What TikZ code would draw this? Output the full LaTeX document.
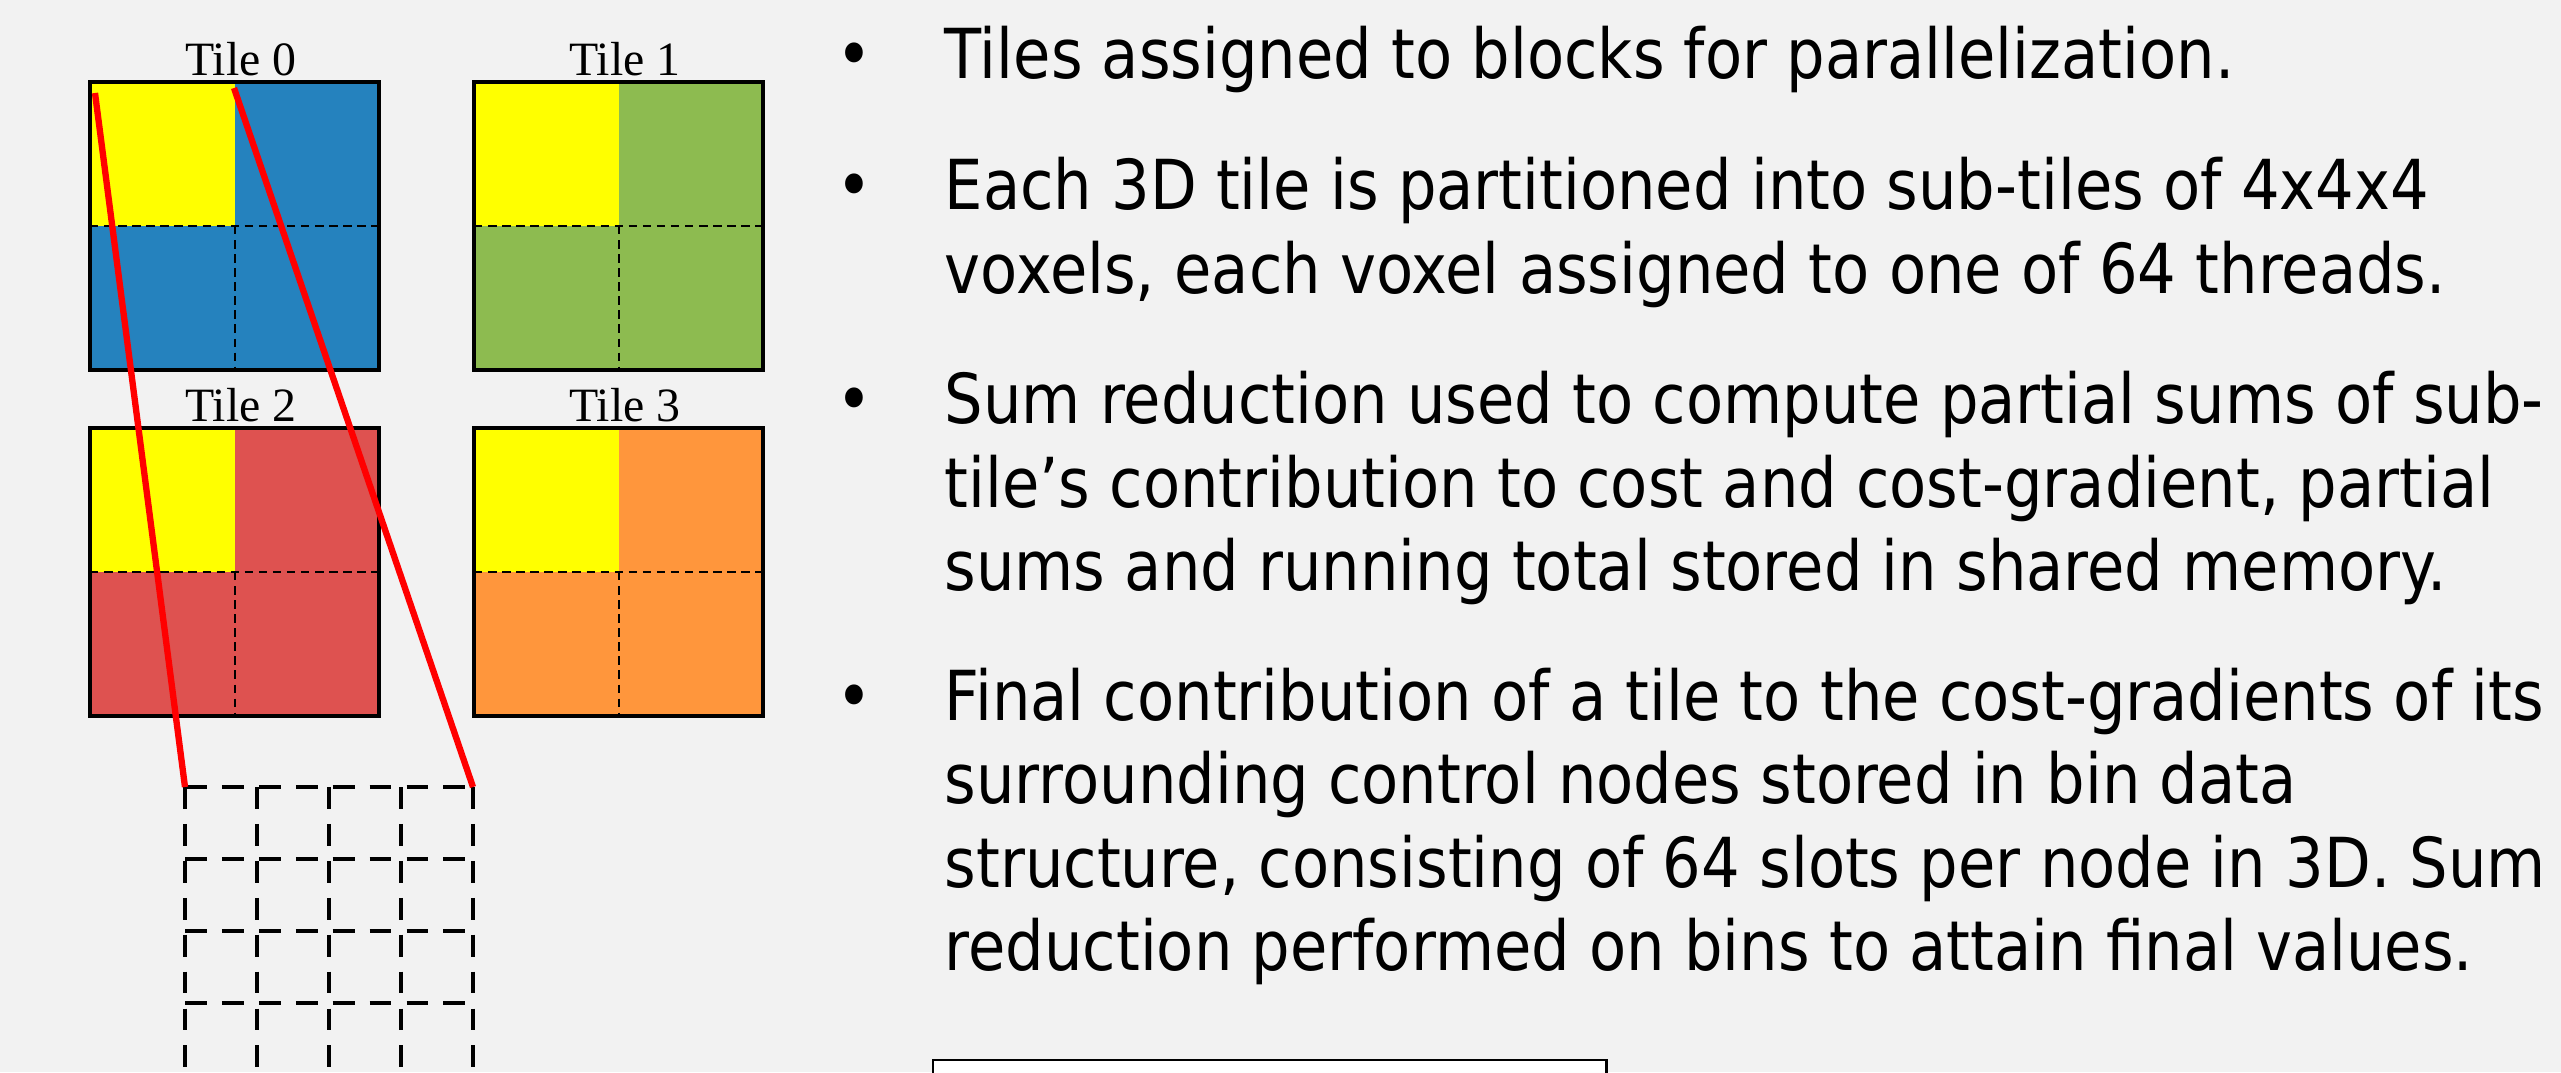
\documentclass[tikz,border=0pt]{standalone}
\usepackage{fontspec}
\setmainfont{Liberation Serif}
\newfontfamily\bodyfont[FakeStretch=0.881]{DejaVu Sans}
\definecolor{bg}{HTML}{F2F2F2}
\definecolor{tblue}{HTML}{2582BE}
\definecolor{tgreen}{HTML}{8DBB50}
\definecolor{tred}{HTML}{DE5250}
\definecolor{torange}{HTML}{FF963C}
\definecolor{tyellow}{HTML}{FFFF00}
\definecolor{redline}{HTML}{FF0000}
\tikzset{
  tileedge/.style={draw=black, line width=0.9pt},
  innerdash/.style={draw=black, line width=0.6pt, dash pattern=on 2.4pt off 1.6pt},
  griddash/.style={draw=black, line width=1.35pt, dash pattern=on 6.2pt off 4.3pt},
  zoomline/.style={draw=redline, line width=1.8pt},
  tilelabel/.style={anchor=base, inner sep=0pt, font=\fontsize{13.6pt}{14pt}\selectfont},
  txt/.style={anchor=base west, inner sep=0pt, font=\bodyfont\fontsize{19.6pt}{21pt}\selectfont},
  bul/.style={anchor=base, inner sep=0pt, font=\bodyfont\fontsize{19.6pt}{21pt}\selectfont},
}
\begin{document}
\begin{tikzpicture}[x=0.01cm, y=-0.01cm]
\useasboundingbox (0,0) rectangle (2561,1072);
\fill[bg] (0,0) rectangle (2561,1072);
\clip (0,0) rectangle (2561,1072);

% tiles
\foreach \x/\y/\c/\n in {90/82/tblue/0, 474/82/tgreen/1, 90/428/tred/2, 474/428/torange/3} {
  \fill[\c] (\x,\y) rectangle ++(289,288);
  \fill[tyellow] (\x,\y) rectangle ++(145,144);
  \draw[innerdash] (\x+145,\y+144) -- ++(0,144);
  \draw[innerdash] (\x,\y+144) -- ++(289,0);
  \draw[tileedge] (\x,\y) rectangle ++(289,288);
  \node[tilelabel] (lbl\n) at (\x+151,\y-7) {Tile \n};
}

% zoomed sub-tile grid
\foreach \i in {0,...,4} {
  \draw[griddash] (185+72*\i,787) -- (185+72*\i,1080);
  \draw[griddash] (185,787+72*\i) -- (473,787+72*\i);
}
\coordinate (gridTL) at (185,787);
\coordinate (gridTR) at (473,787);
\coordinate (sel1) at (95,93);
\coordinate (sel2) at (234,88);
\draw[zoomline] (sel1) -- (gridTL);
\draw[zoomline] (sel2) -- (gridTR);

% bullets
\node[bul] (b1) at (854,78) {•};
\node[bul] (b2) at (854,209) {•};
\node[bul] (b3) at (854,423) {•};
\node[bul] (b4) at (854,720) {•};

% text
\node[txt] (t1) at (944,78) {Tiles assigned to blocks for parallelization.};
\node[txt] (t2) at (944,209) {Each 3D tile is partitioned into sub-tiles of 4x4x4};
\node[txt] (t3) at (944,293) {voxels, each voxel assigned to one of 64 threads.};
\node[txt] (t4) at (944,423) {Sum reduction used to compute partial sums of sub-};
\node[txt] (t5) at (944,507) {tile’s contribution to cost and cost-gradient, partial};
\node[txt] (t6) at (944,590) {sums and running total stored in shared memory.};
\node[txt] (t7) at (944,720) {Final contribution of a tile to the cost-gradients of its};
\node[txt] (t8) at (944,803) {surrounding control nodes stored in bin data};
\node[txt] (t9) at (944,887) {structure, consisting of 64 slots per node in 3D. Sum};
\node[txt] (t10) at (944,970) {reduction performed on bins to attain final values.};

% bottom box
\node[draw=black, line width=0.6pt, fill=white, anchor=north west, minimum width=6.73cm, minimum height=1cm, inner sep=0pt] (box) at (932,1059) {};
\end{tikzpicture}
\end{document}
